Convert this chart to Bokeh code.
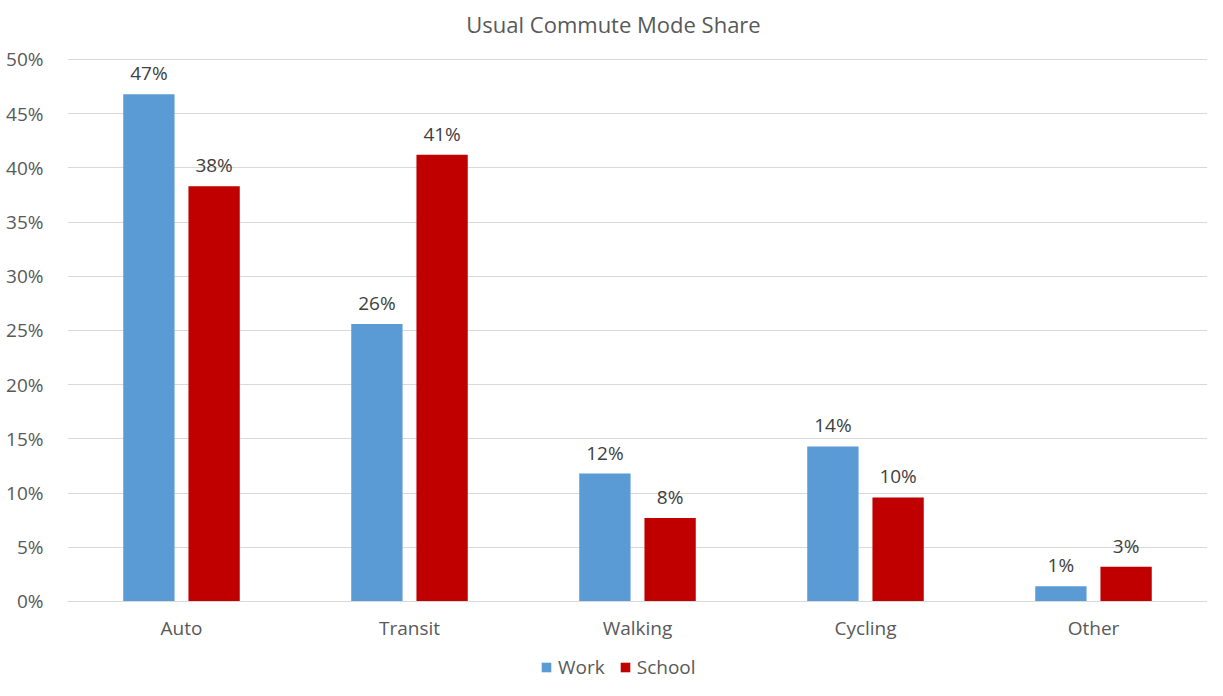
from bokeh.plotting import figure
from bokeh.models import (ColumnDataSource, FactorRange, Range1d, FixedTicker,
                          NumeralTickFormatter, Legend, LegendItem)
from bokeh.core.properties import value
from bokeh.transform import dodge
from bokeh.embed import file_html
from bokeh.resources import INLINE

title_text = "Usual Commute Mode Share"
categories = ["Auto", "Transit", "Walking", "Cycling", "Other"]
work = [46.8, 25.6, 11.8, 14.3, 1.4]
school = [38.3, 41.2, 7.7, 9.6, 3.2]
series_names = ["Work", "School"]
colors = ["#5B9BD5", "#C00000"]
y_ticks = [0, 0.05, 0.10, 0.15, 0.20, 0.25, 0.30, 0.35, 0.40, 0.45, 0.50]

FONT = "Open Sans"
TXT = "#595959"

src = ColumnDataSource(dict(
    cat=categories,
    work=[v / 100 for v in work],
    school=[v / 100 for v in school],
    work_lbl=[f"{round(v)}%" for v in work],
    school_lbl=[f"{round(v)}%" for v in school],
))

# the frame fills the canvas vertically, so the title and legend (drawn inside it) stay visible
Y_BOTTOM, Y_TOP = -0.0729, 0.5544
p = figure(x_range=FactorRange(*categories), y_range=Range1d(Y_BOTTOM, Y_TOP),
           width=1207, height=680, output_backend="svg", toolbar_location=None,
           min_border_left=67, min_border_right=0, min_border_top=0, min_border_bottom=0)

title_src = ColumnDataSource(dict(x=[categories[2]], y=[Y_TOP], t=[title_text]))
p.text(x="x", y="y", text="t", source=title_src, text_align="center", text_baseline="top",
       x_offset=-24, y_offset=8, text_font=value(FONT), text_font_size=value("22px"),
       text_color=TXT)

bw = 0.225
off = 0.143
r1 = p.vbar(x=dodge("cat", -off, range=p.x_range), top="work", width=bw, source=src,
            fill_color=colors[0], line_color=None)
r2 = p.vbar(x=dodge("cat", off, range=p.x_range), top="school", width=bw, source=src,
            fill_color=colors[1], line_color=None)

for col, lbl, o in (("work", "work_lbl", -off), ("school", "school_lbl", off)):
    p.text(x=dodge("cat", o, range=p.x_range), y=col, text=lbl, source=src,
           text_align="center", text_baseline="bottom", y_offset=-8,
           text_font=value(FONT), text_font_size=value("19px"), text_color="#404040")

p.yaxis.ticker = FixedTicker(ticks=y_ticks)
p.yaxis.formatter = NumeralTickFormatter(format="0%")
for ax in (p.xaxis[0], p.yaxis[0]):
    ax.major_tick_line_color = None
    ax.minor_tick_line_color = None
    ax.major_label_text_font = FONT
    ax.major_label_text_font_size = "19px"
    ax.major_label_text_color = TXT
p.yaxis.axis_line_color = None
p.yaxis.major_label_standoff = 18
p.xaxis.axis_line_color = "#D9D9D9"
p.xaxis.major_label_standoff = 8
p.xaxis.fixed_location = 0

p.xgrid.grid_line_color = None
p.ygrid.grid_line_color = "#D9D9D9"
p.ygrid.ticker = FixedTicker(ticks=y_ticks)
p.outline_line_color = None

legend = Legend(items=[LegendItem(label=series_names[0], renderers=[r1]),
                       LegendItem(label=series_names[1], renderers=[r2])],
                orientation="horizontal", location=(473, 0),
                label_text_font=FONT, label_text_font_size="19px", label_text_color=TXT,
                glyph_width=12, glyph_height=12, spacing=14, label_standoff=6,
                border_line_color=None, background_fill_alpha=0, margin=0, padding=2)
p.add_layout(legend, "center")

open("out.html", "w").write(file_html(p, INLINE))
